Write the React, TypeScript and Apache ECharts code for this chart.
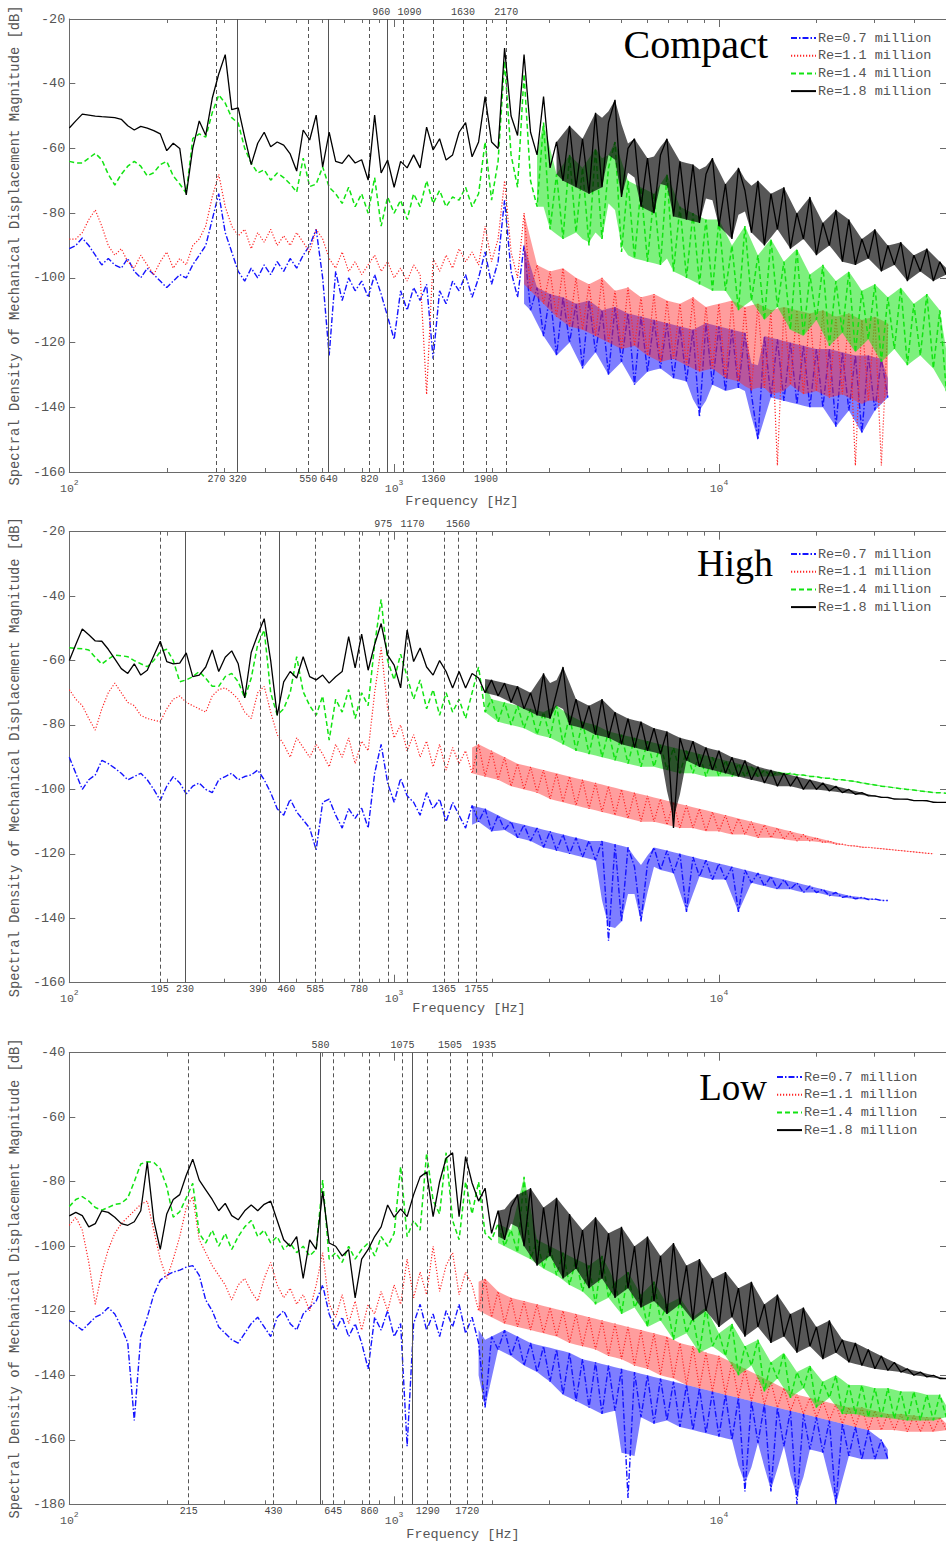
import React, { useEffect, useRef } from 'react';
import * as echarts from 'echarts';

const MONO = '"Liberation Mono", "DejaVu Sans Mono", monospace';
const SERIF = '"Liberation Serif", "DejaVu Serif", serif';

const seriesNames = ['Re=0.7 million', 'Re=1.1 million', 'Re=1.4 million', 'Re=1.8 million'];

// sample frequencies: 50 per decade from 100 Hz
const hzGrid: number[] = Array.from({ length: 136 }, (_, i) => 100 * Math.pow(10, i / 50));

// ---------------- Compact ----------------
const compactBlue = [
  -91, -90, -87.7, -90, -93, -96, -94, -96, -97, -94,
  -98, -100, -97, -99, -101, -103, -101, -99, -100, -96,
  -93, -90, -82, -74, -86, -92, -98, -101, -97, -100,
  -96, -99, -95, -98, -94, -97, -93, -90, -85, -100,
  -124, -98, -107, -100, -104, -101, -106, -99, -105, -112,
  -119, -104, -110, -103, -107, -102, -125, -104, -108, -101,
  -104, -99, -106, -100, -92, -102, -95, -76, -98, -106,
  -90, -110, -103, -118, -105, -124, -106, -120, -108, -128,
  -107, -123, -110, -130, -109, -126, -111, -133, -112, -129,
  -113, -128, -114, -131, -115, -132, -116, -143, -114, -133,
  -115, -135, -116, -134, -117, -136, -150, -118, -137, -119,
  -138, -120, -139, -121, -140, -122, -140, -122, -146, -123,
  -141, -124, -148, -124, -141, -125, -137, null, null, null,
  null, null, null, null, null, null,
];
const compactRed = [
  -88, -88, -86, -82, -79, -84, -90, -93, -91, -95,
  -97, -93, -96, -99, -95, -92, -97, -94, -96, -90,
  -88, -84, -75, -68, -78, -84, -87, -85, -91, -86,
  -89, -85, -90, -87, -90, -86, -89, -92, -85, -88,
  -94, -97, -92, -98, -95, -99, -96, -93, -98, -95,
  -100, -97, -101, -96, -99, -136, -94, -98, -93, -97,
  -91, -95, -92, -96, -84, -95, -88, -70, -92, -100,
  -80, -104, -96, -108, -98, -112, -97, -115, -100, -116,
  -102, -118, -100, -120, -104, -122, -103, -121, -106, -124,
  -105, -126, -107, -125, -108, -127, -106, -129, -109, -128,
  -108, -131, -107, -132, -109, -135, -108, -134, -110, -158,
  -109, -133, -110, -136, -111, -135, -110, -137, -112, -136,
  -111, -158, -113, -138, -112, -158, -114, null, null, null,
  null, null, null, null, null, null,
];
const compactGreen = [
  -64, -64.5, -64.5, -63, -61.5, -63.5, -68, -71.3, -68, -65.5,
  -64, -65.5, -68.5, -67.5, -65, -64, -68.5, -71, -73.8, -57,
  -55.5, -56.5, -49, -43.5, -46, -50.5, -52.2, -60, -64.5, -67.6,
  -66.6, -69.8, -67.6, -69, -71, -73.5, -63, -71.8, -71, -65.7,
  -72, -74, -77, -72, -78, -74, -80, -69, -84, -75,
  -80, -76, -82, -74, -78, -70, -77, -73, -78, -75,
  -76, -72, -78, -74, -58, -76, -64, -33, -62, -72,
  -37, -70, -78, -52, -85, -68, -88, -62, -86, -66,
  -90, -60, -88, -66, -58, -92, -70, -94, -72, -95,
  -74, -96, -68, -98, -78, -100, -80, -102, -82, -104,
  -82, -104, -90, -110, -84, -107, -93, -113, -88, -109,
  -95, -116, -91, -118, -99, -113, -96, -121, -101, -117,
  -98, -123, -104, -119, -102, -126, -106, -122, -103, -127,
  -108, -124, -105, -128, -110, -135,
];
const compactBlack = [
  -53.7, -51.5, -49.4, -49.7, -50, -50.2, -50.3, -50.5, -51, -53,
  -54.3, -53.2, -53.7, -54.5, -55.5, -60.7, -58.4, -60, -74.4, -60,
  -51.5, -55.9, -44.5, -37, -31, -48, -47.5, -56.5, -65, -58.4,
  -55, -59.5, -58, -59, -61.7, -67, -54.3, -57.4, -49.7, -65.7,
  -55, -64, -64.6, -62, -64.5, -63.5, -69.8, -49.7, -67.6, -63.6,
  -72, -64, -66, -62, -66, -53.4, -60.5, -57, -63.6, -62,
  -55, -52, -62.6, -58, -44, -58, -60, -29, -50, -56,
  -31, -55, -62, -44, -66, -58, -70, -53, -72, -57,
  -74, -49, -72, -52, -45, -75, -60, -57, -78, -63,
  -80, -62, -57, -81, -64, -82, -65, -83, -68, -63,
  -84, -71, -88, -66, -73, -86, -70, -90, -74, -85,
  -72, -91, -80, -88, -75, -93, -83, -90, -79, -95,
  -82, -96, -88, -94, -85, -98, -90, -96, -89, -101,
  -93, -98, -91, -101, -95, -99,
];
const compactLineHz = [284, 330, 544, 629, 840, 953, 1069, 1323, 1628, 1919, 2214];
const compactLineLabels = ['270', '320', '550', '640', '820', '960', '1090', '1360', '1630', '1900', '2170'];
const compactLineSolid = [false, true, false, true, false, true, false, false, false, false, false];
const compactLineTop = [false, false, false, false, false, true, true, false, true, false, true];

// ---------------- High ----------------
const highBlue = [
  -90, -95, -100, -97, -95.5, -91, -92, -93.4, -95, -97,
  -96, -95, -97, -100, -103.4, -99, -96, -98, -101.4, -99,
  -98, -100, -101, -97, -96, -95, -97, -96, -95.5, -94,
  -97, -101, -106, -108, -103, -107, -109.5, -112, -118.8, -104,
  -103, -108, -112, -106, -109, -105.8, -112, -95, -86, -98,
  -104, -96.6, -102, -104, -108, -101, -106, -103, -110, -104,
  -108, -112, -105, -110, -106, -113, -108, -112.6, -110, -115,
  -111, -116, -112, -118, -113, -119, -114, -120, -115, -121,
  -116, -122, -116, -147, -117, -141, -118, -124, -141, -123,
  -118, -125, -119, -126, -120, -138, -121, -127, -122, -128,
  -123, -128, -124, -138, -125, -129, -126, -130, -127, -131,
  -128, -131, -129, -132, -130, -132, -131, -133, -132, -133.5,
  -133, -134, -133.5, -134.2, -134, -134.5, -134.5, null, null, null,
  null, null, null, null, null, null,
];
const highRed = [
  -69, -72, -74, -78, -81.6, -75, -70, -67, -70, -73,
  -74, -77, -78, -78.5, -79, -75, -72, -71, -73, -74,
  -75, -76, -71, -69, -68.5, -70, -72, -76, -78, -70,
  -68, -76, -83, -86, -90, -84, -87, -90, -86, -89,
  -93, -86, -90, -84, -92, -85, -88, -70, -56, -75,
  -84, -80, -88, -83, -90, -85, -93, -86, -94, -87,
  -92, -88, -95, -86, -96, -88, -97, -90, -99, -92,
  -100, -93, -101, -94, -103, -95, -104, -96, -105, -97,
  -106, -98, -107, -99, -108, -100, -109, -101, -110, -102,
  -110, -103, -111, -104, -112, -105, -112, -106, -113, -107,
  -113, -108, -114, -109, -114, -110, -115, -111, -115, -112,
  -115.5, -113, -116, -114, -116, -115, -116.5, -116, -117, -117,
  -117.5, -117.5, -118, -118, -118.2, -118.4, -118.6, -118.8, -119, -119.2,
  -119.4, -119.6, -119.8, -120, null, null,
];
const highGreen = [
  -56, -56.2, -56.3, -56.7, -59, -61.1, -59.5, -58.3, -58.5, -58.8,
  -60, -61, -61.9, -60, -57.2, -56.5, -60, -66.6, -66, -65,
  -63.4, -65.5, -68, -68, -65, -64, -66.6, -71.6, -65.5, -55,
  -50.5, -70, -76.9, -75, -70, -58.8, -69.7, -74, -77, -71,
  -84.7, -72, -76, -69, -78, -70, -74, -55, -41, -60,
  -66, -58, -65, -72, -66, -75, -69, -77, -70, -76,
  -72, -78, -70, -62, -76, -72, -79, -73, -80, -74,
  -81, -75, -83, -76, -84, -74, -86, -77, -88, -79,
  -89, -80, -90, -82, -91, -83, -92, -84, -93, -85,
  -93, -86, -94, -87, -95, -88, -95, -89, -96, -90,
  -96, -91, -96, -92, -96, -93, -96, -94, -96, -94.5,
  -95.5, -95, -95.5, -95.5, -96, -96, -96.5, -96.5, -97, -97,
  -97.3, -97.5, -98, -98.3, -98.6, -99, -99.2, -99.5, -99.8, -100,
  -100.2, -100.5, -100.7, -101, -101, -101.2,
];
const highBlack = [
  -60, -55, -50.2, -52, -53.9, -54, -56.5, -59.5, -62.5, -64,
  -61, -64.5, -63, -58.5, -54, -60.3, -61, -60.8, -57.6, -65,
  -64.5, -62, -56.7, -63.4, -59, -57, -61, -71.6, -57.5, -52,
  -47, -60, -77, -66.6, -63.4, -65.4, -58.8, -65, -66, -64.5,
  -67, -65, -63.4, -52.6, -62.3, -51.8, -63, -55, -48.5, -58.3,
  -61.4, -68.5, -50.5, -60.3, -56.1, -62, -64.5, -60, -63.4, -68.5,
  -63.4, -68.5, -64, -65.4, -70, -66, -71, -67, -73, -68,
  -75, -70, -77, -64, -78, -70, -62, -80, -72, -81,
  -74, -83, -72, -84, -76, -86, -78, -87, -79, -88,
  -81, -89, -82, -112, -84, -91, -85, -93, -87, -94,
  -88, -95, -90, -96, -91, -97, -93, -98, -94, -99,
  -95, -99, -96, -100, -97, -100, -98, -100.5, -99, -101,
  -100, -101.5, -101, -102, -102, -102.5, -102.5, -103, -103, -103,
  -103.5, -103.5, -103.5, -104, -104, -104,
];
const highLineHz = [190, 227, 387, 443, 572, 780, 960, 1100, 1424, 1572, 1792];
const highLineLabels = ['195', '230', '390', '460', '585', '780', '975', '1170', '1365', '1560', '1755'];
const highLineSolid = [false, true, false, true, false, false, false, false, false, false, false];
const highLineTop = [false, false, false, false, false, false, true, true, false, true, false];

// ---------------- Low ----------------
const lowBlue = [
  -123, -124.5, -126, -124, -122, -121, -119, -121, -125, -130,
  -154, -128, -122, -115, -110.5, -109, -108, -107.4, -106.5, -106,
  -109, -116.7, -120, -125, -127, -129, -130, -127, -124, -122,
  -125, -128, -122, -120, -124, -126, -121, -119, -117, -112,
  -121, -126, -122, -128, -124, -130, -138, -122, -126, -120,
  -128, -124, -162, -124, -118, -126, -121, -128, -120, -125,
  -118, -127, -122, -130, -150, -128, -132, -126, -134, -128,
  -137, -130, -139, -131, -142, -132, -146, -133, -148, -135,
  -150, -136, -152, -137, -151, -138, -178, -139, -153, -140,
  -155, -141, -154, -142, -156, -143, -157, -144, -158, -145,
  -159, -146, -160, -147, -176, -148, -161, -149, -176, -150,
  -162, -151, -180, -152, -163, -153, -164, -154, -180, -155,
  -165, -156, -166, -157, -166, -160, -166, null, null, null,
  null, null, null, null, null, null,
];
const lowRed = [
  -93.5, -91, -95, -105, -118, -108, -101, -96, -93, -91,
  -89, -87, -86, -95, -104, -110, -104, -97, -88, -84.6,
  -98, -102, -106, -109, -112, -116.7, -112, -110, -114, -117,
  -110, -105, -112, -116, -113, -118, -115, -120, -112, -102,
  -118, -122, -115, -124, -117, -126, -118, -121, -114, -120,
  -112, -118, -104, -116, -108, -115, -100, -114, -106, -102,
  -115, -108, -112, -120, -110, -122, -114, -124, -116, -125,
  -117, -126, -118, -127, -119, -128, -120, -130, -121, -131,
  -122, -132, -123, -134, -124, -135, -125, -137, -126, -138,
  -127, -140, -128, -141, -130, -143, -131, -144, -133, -145,
  -134, -146, -136, -147, -138, -148, -140, -149, -142, -150,
  -144, -151, -146, -152, -147, -153, -148, -154, -149, -155,
  -150, -156, -150, -157, -151, -157, -152, -157, -152, -157.5,
  -152.5, -157.5, -153, -157.5, -153, -157,
];
const lowGreen = [
  -87.7, -85.5, -84.6, -86, -88, -88.8, -88, -87, -86.7, -85,
  -80, -74.5, -73.8, -74, -76, -81.5, -91, -89.3, -85, -80.5,
  -96, -99, -95, -100, -96, -101, -97, -94, -92, -97,
  -95, -99, -97, -101, -99, -102, -100, -103, -101, -79.5,
  -104, -102, -105, -100, -104, -101, -99, -103, -97, -100,
  -96, -75.3, -97, -92, -95, -71.1, -85.8, -90, -71, -92,
  -98, -80, -90, -80, -96, -98, -93, -100, -95, -102,
  -78.5, -104, -98, -107, -100, -109, -102, -112, -104, -114,
  -106, -118, -103, -116, -111, -121, -108, -119, -115, -125,
  -111, -123, -118, -129, -116, -127, -122, -133, -119, -131,
  -127, -134, -124, -140, -131, -137, -129, -145, -136, -141,
  -133, -147, -139, -144, -137, -150, -142, -147, -140, -152,
  -143, -152, -143, -153, -144, -153, -144, -153.5, -145, -154,
  -145, -154, -146, -154, -146, -153,
];
const lowBlack = [
  -90.6, -89.5, -90.5, -94, -93, -89, -89.5, -91, -93, -93.5,
  -92.4, -89, -74, -92, -101, -90, -85.5, -84, -78, -73,
  -79.5, -82.5, -85.5, -89, -86.7, -90.5, -91.8, -89, -87.2, -89,
  -87, -86, -92, -98, -100, -97, -110, -98, -101, -83,
  -99, -100, -103, -101, -116, -104, -101, -97, -94, -87.2,
  -91, -88.4, -90.8, -84, -78.5, -77, -90.8, -80, -72.7, -71,
  -90.8, -72.2, -80.4, -86, -82, -96, -89, -98, -88, -84,
  -100, -82, -106, -88, -103, -85, -110, -90, -107, -95,
  -113, -91, -110, -96, -116, -94, -113, -100, -119, -97,
  -117, -103, -121, -99, -118, -106, -123, -104, -120, -110,
  -125, -108, -122, -113, -128, -111, -125, -118, -130, -115,
  -128, -121, -133, -119, -131, -125, -135, -123, -133, -129,
  -136, -130, -137, -132, -138, -134, -138.5, -136, -139, -138,
  -140, -139, -140.5, -140, -141, -141,
];
const lowLineHz = [233, 425, 593, 650, 840, 1062, 1134, 1269, 1486, 1679, 1869];
const lowLineLabels = ['215', '430', '580', '645', '860', '1075', '', '1290', '1505', '1720', '1935'];
const lowLineSolid = [false, false, true, false, false, false, true, false, false, false, false];
const lowLineTop = [false, false, true, false, false, true, false, false, true, false, true];

const compactTicksY = { min: -160, max: -20 };
const highTicksY = { min: -160, max: -20 };
const lowTicksY = { min: -180, max: -40 };

// ---------------- layout / styling ----------------
const LOG_MAX = Math.log10(50000);
const majorLogs = [2, 3, 4];
const minorLogs: number[] = [];
for (let d = 2; d <= 4; d++) {
  for (let k = 2; k <= 9; k++) {
    const v = d + Math.log10(k);
    if (v <= LOG_MAX) minorLogs.push(v);
  }
}

const seriesStyles = [
  { color: '#1414ff', type: [6, 2, 1.5, 2] as any, width: 1.4 },
  { color: '#ff2626', type: [1.2, 1.8] as any, width: 1.2 },
  { color: '#12e312', type: [5, 3] as any, width: 1.5 },
  { color: '#000000', type: 'solid' as any, width: 1.3 },
];
const bandOpacity = [0.55, 0.45, 0.55, 0.66];
const BAND_CAP = 26; // dB: deepest extent of shaded band below its upper edge

const panels = [
  {
    title: 'Compact', titleSize: 40, titleRight: 768, titleY: 44, top: 19, height: 453, y: compactTicksY,
    values: [compactBlue, compactRed, compactGreen, compactBlack], bandFrom: [70, 70, 72, 75],
    lineHz: compactLineHz, lineLabels: compactLineLabels, lineSolid: compactLineSolid, lineTop: compactLineTop,
    labelDx: [0, 0, 0, 0, 0, -6, 6, 0, 0, 0, 0],
    legendLeft: 790, legendTop: 31, xNameX: 462, xNameY: 501,
  },
  {
    title: 'High', titleSize: 38, titleRight: 773, titleY: 563, top: 531.7, height: 451, y: highTicksY,
    values: [highBlue, highRed, highGreen, highBlack], bandFrom: [62, 62, 64, 64],
    lineHz: highLineHz, lineLabels: highLineLabels, lineSolid: highLineSolid, lineTop: highLineTop,
    labelDx: [0, 0, -2, 7, 0, 0, -5, 5, 0, 0, 0],
    legendLeft: 790, legendTop: 547, xNameX: 469, xNameY: 1008,
  },
  {
    title: 'Low', titleSize: 37, titleRight: 767, titleY: 1087, top: 1052.7, height: 451.6, y: lowTicksY,
    values: [lowBlue, lowRed, lowGreen, lowBlack], bandFrom: [63, 63, 66, 66],
    lineHz: lowLineHz, lineLabels: lowLineLabels, lineSolid: lowLineSolid, lineTop: lowLineTop,
    labelDx: [0, 0, 0, 0, 0, 0, 0, 0, 0, 0, 2],
    legendLeft: 776, legendTop: 1070, xNameX: 463, xNameY: 1534,
  },
];

const AXIS_COLOR = '#6a6a6a';
const TEXT_COLOR = '#555';

// outline of the dense part of a trace: upper edge through its peaks, lower edge through its troughs
function bandOutline(vals: (number | null)[], from: number) {
  const upper: number[][] = [];
  const lower: number[][] = [];
  for (let i = from; i < vals.length; i++) {
    const v = vals[i];
    if (v === null || v === undefined) continue;
    const prev = vals[i - 1] ?? v;
    const next = vals[i + 1] ?? v;
    const hi = (Math.max(prev, v) + Math.max(v, next)) / 2;
    const lo = Math.max((Math.min(prev, v) + Math.min(v, next)) / 2, hi - BAND_CAP);
    upper.push([hzGrid[i], hi]);
    lower.push([hzGrid[i], lo]);
  }
  return upper.concat(lower.reverse());
}

function buildOption() {
  const grid: any[] = [];
  const xAxis: any[] = [];
  const yAxis: any[] = [];
  const series: any[] = [];
  const legend: any[] = [];
  const graphic: any[] = [];

  panels.forEach((p, g) => {
    grid.push({ left: 65.7, width: 882.3, top: p.top, height: p.height, containLabel: false });

    xAxis.push({
      type: 'log', logBase: 10, gridIndex: g, min: 100, max: 50000, position: 'bottom',
      axisLine: { show: true, onZero: false, lineStyle: { color: AXIS_COLOR, width: 1 } },
      axisTick: { show: false }, axisLabel: { show: false }, splitLine: { show: false },
    });
    xAxis.push({
      type: 'value', gridIndex: g, min: 2, max: LOG_MAX, position: 'bottom',
      axisLine: { show: false, onZero: false },
      axisTick: { show: true, inside: true, length: 8, customValues: majorLogs, lineStyle: { color: AXIS_COLOR } },
      axisLabel: {
        show: true, customValues: majorLogs, margin: 6,
        formatter: (v: number) => `{b|10}{s|${Math.round(v)}}`,
        rich: {
          b: { fontFamily: MONO, fontSize: 11.5, color: TEXT_COLOR, lineHeight: 16, verticalAlign: 'bottom' },
          s: { fontFamily: MONO, fontSize: 8, color: TEXT_COLOR, lineHeight: 16, verticalAlign: 'top' },
        },
      },
      splitLine: { show: false },
    });
    xAxis.push({
      type: 'value', gridIndex: g, min: 2, max: LOG_MAX, position: 'bottom',
      axisLine: { show: false, onZero: false },
      axisTick: { show: true, inside: true, length: 4, customValues: minorLogs, lineStyle: { color: AXIS_COLOR } },
      axisLabel: { show: false }, splitLine: { show: false },
    });
    xAxis.push({
      type: 'value', gridIndex: g, min: 2, max: LOG_MAX, position: 'top',
      axisLine: { show: true, onZero: false, lineStyle: { color: AXIS_COLOR, width: 1 } },
      axisTick: { show: true, inside: true, length: 8, customValues: majorLogs, lineStyle: { color: AXIS_COLOR } },
      axisLabel: { show: false }, splitLine: { show: false },
    });
    xAxis.push({
      type: 'value', gridIndex: g, min: 2, max: LOG_MAX, position: 'top',
      axisLine: { show: false, onZero: false },
      axisTick: { show: true, inside: true, length: 4, customValues: minorLogs, lineStyle: { color: AXIS_COLOR } },
      axisLabel: { show: false }, splitLine: { show: false },
    });

    yAxis.push({
      type: 'value', gridIndex: g, min: p.y.min, max: p.y.max, interval: 20, position: 'left',
      axisLine: { show: true, onZero: false, lineStyle: { color: AXIS_COLOR, width: 1 } },
      axisTick: { show: true, inside: true, length: 6, lineStyle: { color: AXIS_COLOR } },
      axisLabel: { show: true, margin: 4, fontFamily: MONO, fontSize: 13.5, color: TEXT_COLOR, formatter: (v: number) => String(v) },
      splitLine: { show: false },
      name: 'Spectral Density of Mechanical Displacement Magnitude [dB]',
      nameLocation: 'middle', nameGap: 47, nameRotate: 90,
      nameTextStyle: { fontFamily: MONO, fontSize: 13.8, color: TEXT_COLOR },
    });
    yAxis.push({
      type: 'value', gridIndex: g, min: p.y.min, max: p.y.max, interval: 20, position: 'right',
      axisLine: { show: true, onZero: false, lineStyle: { color: AXIS_COLOR, width: 1 } },
      axisTick: { show: true, inside: true, length: 6, lineStyle: { color: AXIS_COLOR } },
      axisLabel: { show: false }, splitLine: { show: false },
    });

    p.values.forEach((vals, s) => {
      const st = seriesStyles[s];
      const outline = bandOutline(vals, p.bandFrom[s]);
      series.push({
        type: 'custom', name: `band-${g}-${s}`, xAxisIndex: g * 5, yAxisIndex: g * 2,
        silent: true, animation: false, z: 2 + s, clip: true,
        data: [outline[0]],
        encode: { x: 0, y: 1 },
        renderItem: (params: any, api: any) => ({
          type: 'polygon',
          shape: { points: outline.map((pt) => api.coord(pt)) },
          style: { fill: st.color, opacity: bandOpacity[s], stroke: null },
        }),
      });

      const data: number[][] = [];
      vals.forEach((v, i) => {
        if (v !== null && v !== undefined) data.push([hzGrid[i], v as number]);
      });
      const item: any = {
        type: 'line', name: seriesNames[s], xAxisIndex: g * 5, yAxisIndex: g * 2,
        data, symbol: 'none', showSymbol: false, silent: true, animation: false,
        lineStyle: { color: st.color, type: st.type, width: st.width },
        itemStyle: { color: st.color },
        z: 2 + s,
      };
      if (s === 0) {
        item.markLine = {
          symbol: 'none', silent: true, animation: false,
          data: p.lineHz.map((hz, k) => ({
            xAxis: hz,
            lineStyle: { type: p.lineSolid[k] ? 'solid' : [4, 3], color: '#555', width: 1 },
            label: {
              show: p.lineLabels[k] !== '',
              position: p.lineTop[k] ? 'end' : 'start',
              formatter: p.lineLabels[k],
              offset: [p.labelDx[k], 0],
              fontFamily: MONO, fontSize: 10, color: '#444', distance: 2,
            },
          })),
        };
      }
      series.push(item);
    });

    legend.push({
      orient: 'vertical', left: p.legendLeft, top: p.legendTop, padding: 0,
      itemWidth: 25, itemHeight: 14, itemGap: 3.7, selectedMode: false,
      data: seriesNames,
      itemStyle: { opacity: 0 },
      textStyle: { fontFamily: MONO, fontSize: 13.5, color: TEXT_COLOR, padding: [0, 0, 0, -3] },
    });

    graphic.push({
      type: 'text', x: p.titleRight, y: p.titleY, silent: true,
      style: { text: p.title, fontFamily: SERIF, fontSize: p.titleSize, fill: '#000', textAlign: 'right', textVerticalAlign: 'middle', verticalAlign: 'middle' },
    });
    graphic.push({
      type: 'text', x: p.xNameX, y: p.xNameY, silent: true,
      style: { text: 'Frequency [Hz]', fontFamily: MONO, fontSize: 13.5, fill: TEXT_COLOR, textAlign: 'center', textVerticalAlign: 'middle', verticalAlign: 'middle' },
    });
  });

  return { animation: false, backgroundColor: '#fff', grid, xAxis, yAxis, series, legend, graphic };
}

export default function App() {
  const ref = useRef<HTMLDivElement>(null);
  useEffect(() => {
    if (!ref.current) return;
    const chart = echarts.init(ref.current, undefined, { renderer: 'svg' });
    chart.setOption(buildOption() as any);
    return () => chart.dispose();
  }, []);
  return <div ref={ref} style={{ position: 'absolute', left: 0, top: 0, width: 946, height: 1546, background: '#fff' }} />;
}
